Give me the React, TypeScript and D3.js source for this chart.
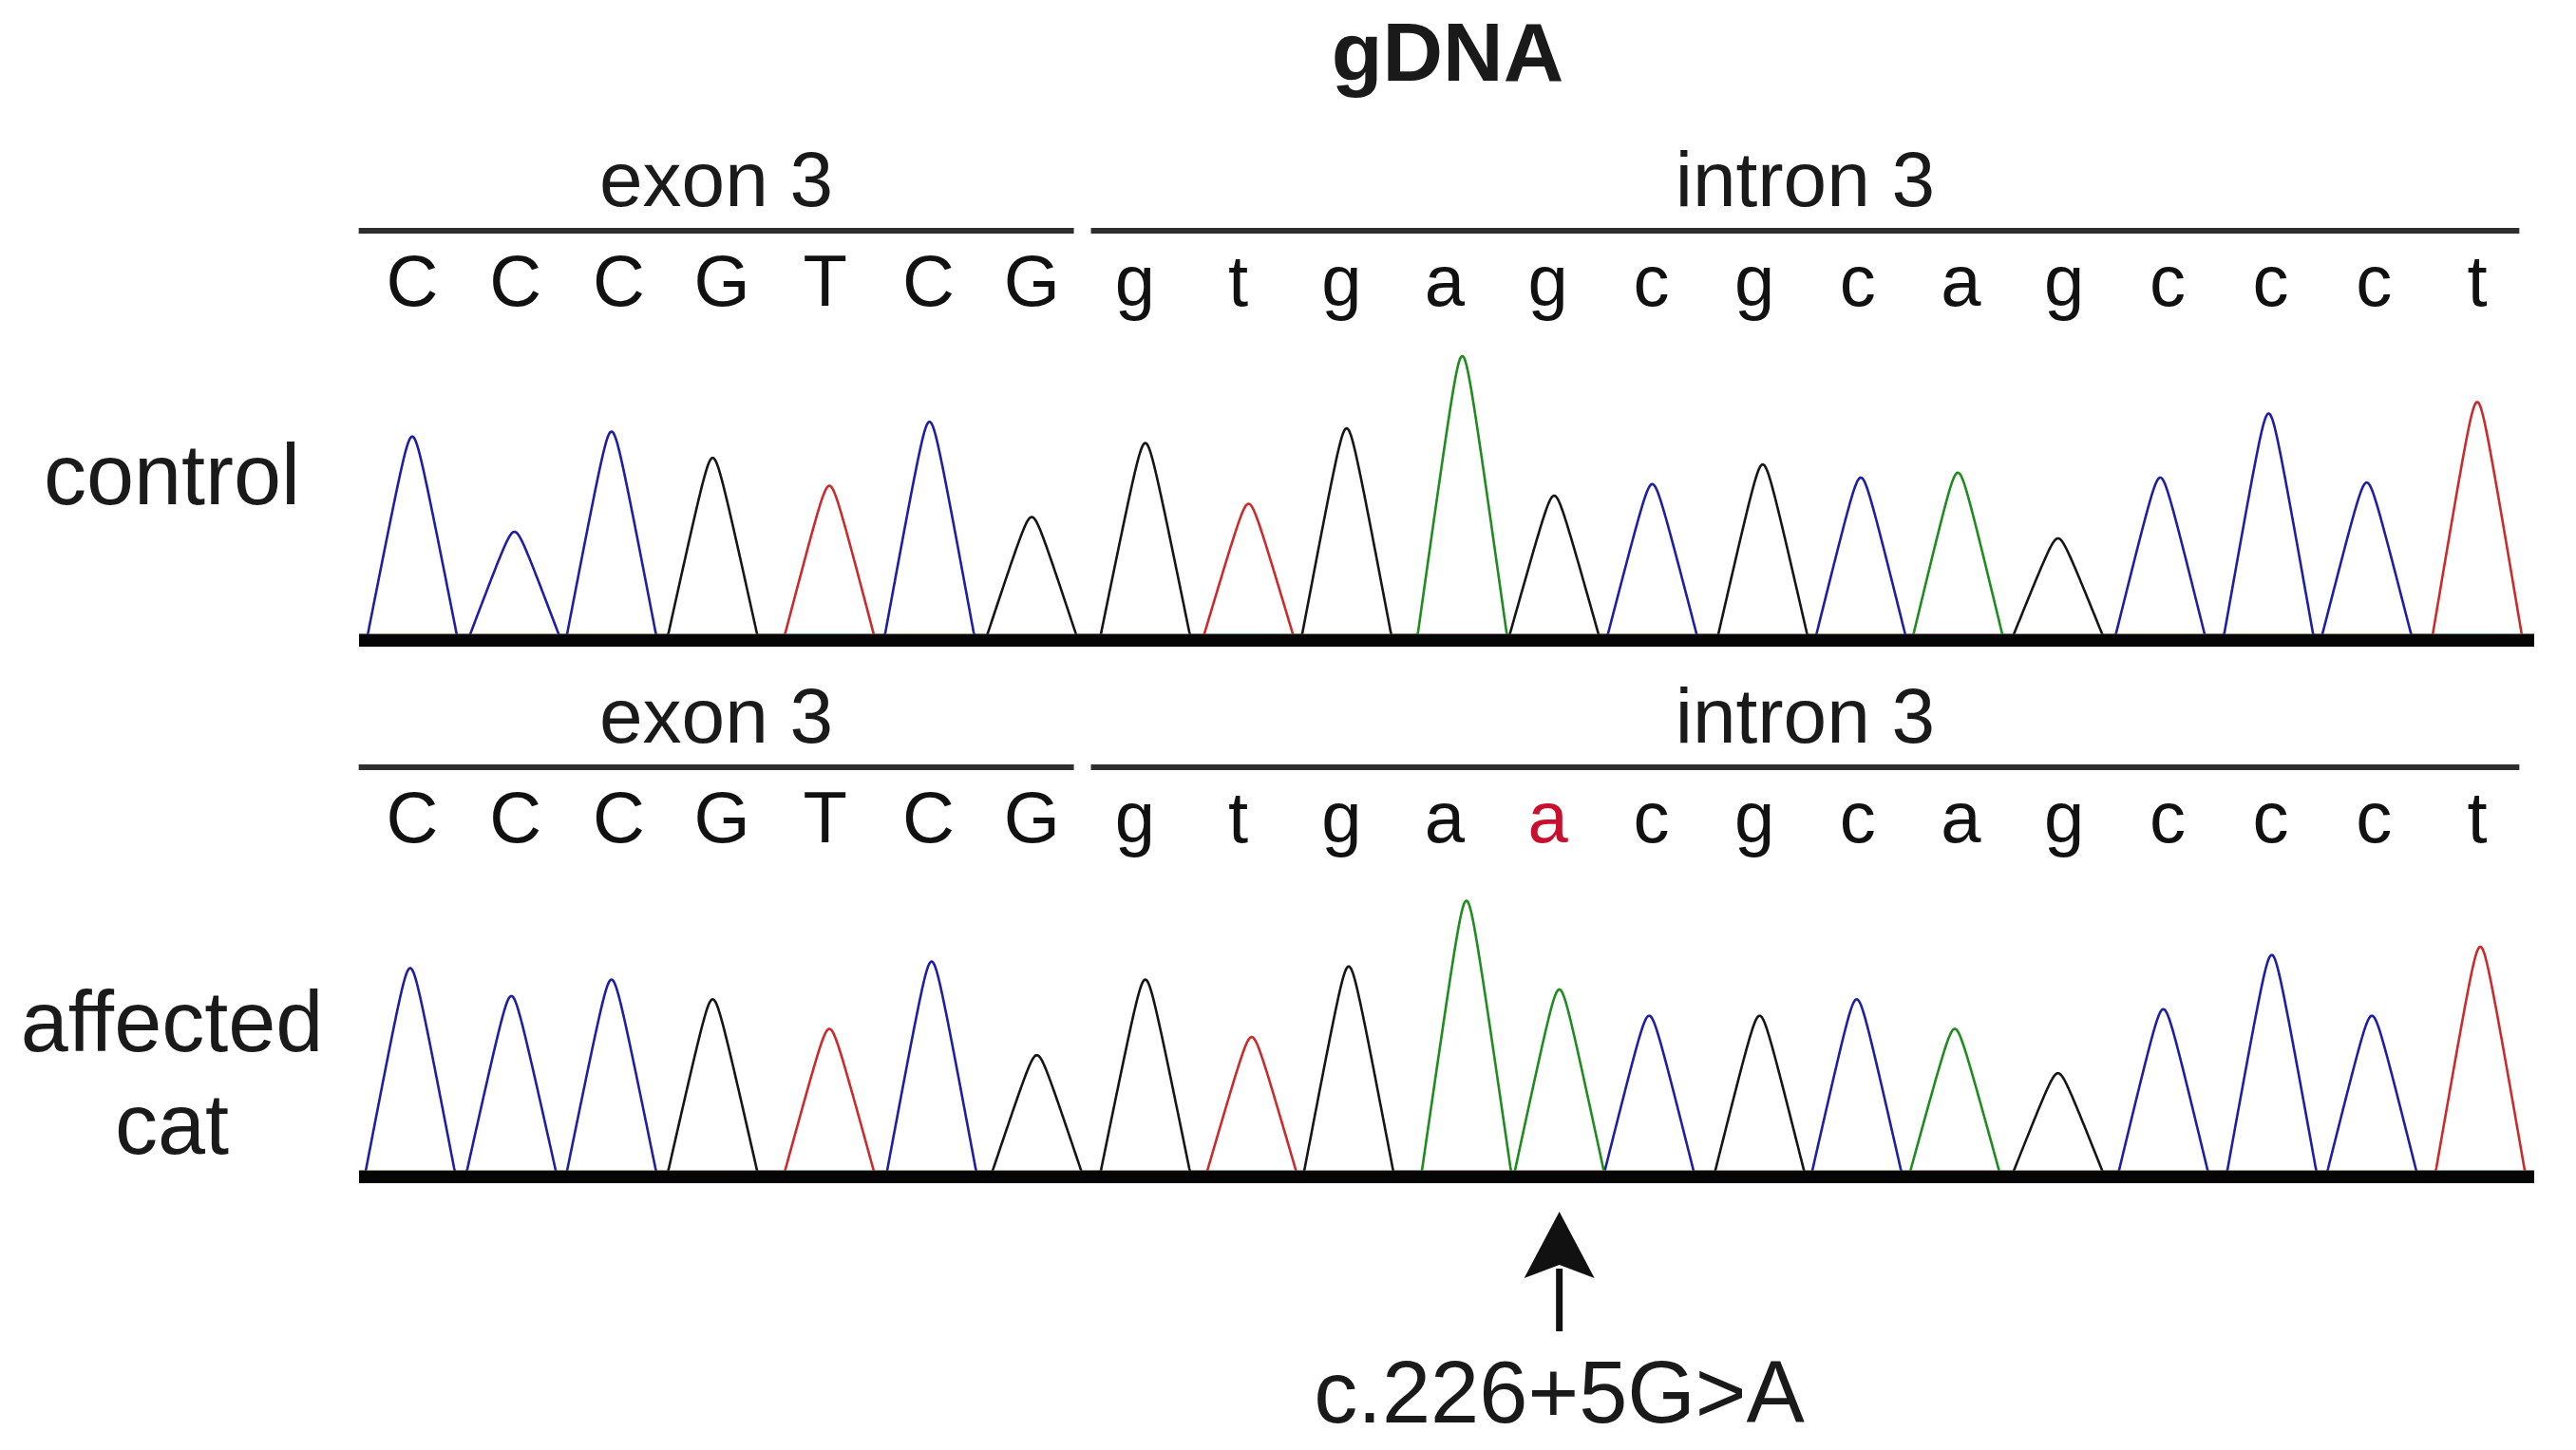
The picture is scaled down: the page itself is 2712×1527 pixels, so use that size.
import React from "react";
import * as d3 from "d3";

// ---- data ----
const CONTROL_BASES = "CCCGTCGgtgagcgcagccct".split("");
const AFFECTED_BASES = "CCCGTCGgtgaacgcagccct".split("");
const MUTATION_INDEX = 11;
const MUTATION_LABEL = "c.226+5G>A";
const TITLE = "gDNA";

// peak centres (in base-call index units) and peak heights (relative signal)
const CONTROL_PEAK_POS = [0, 0.99, 1.93, 2.91, 4.04, 5.01, 6.0, 7.1, 8.1, 9.05, 10.17, 11.06, 12.01, 13.08, 14.03, 14.97, 15.94, 16.93, 17.98, 18.93, 20.0];
const CONTROL_PEAK_H = [121, 63, 124, 108, 91, 130, 72, 117, 80, 126, 170, 85, 92, 104, 96, 99, 59, 96, 135, 93, 142];
const AFFECTED_PEAK_POS = [-0.02, 0.96, 1.93, 2.91, 4.04, 5.03, 6.05, 7.1, 8.13, 9.07, 10.21, 11.11, 11.98, 13.05, 13.99, 14.94, 15.94, 16.96, 18.01, 18.98, 20.03];
const AFFECTED_PEAK_H = [124, 107, 117, 105, 87, 128, 71, 117, 82, 125, 165, 111, 95, 95, 105, 87, 60, 99, 132, 95, 137];

const REGIONS = [
  { label: "exon 3", from: 0, to: 6 },
  { label: "intron 3", from: 7, to: 20 },
];
const ROW_LABELS = [["control"], ["affected", "cat"]];

const CHANNEL_COLOR: Record<string, string> = {
  A: "#1e8c1e",
  C: "#1f1fa3",
  G: "#161616",
  T: "#cc2b2b",
};

const FONT = "'Liberation Sans', Arial, Helvetica, sans-serif";

export default function App() {
  const W = 2712;
  const H = 1527;
  const x = d3.scaleLinear().domain([0, 20]).range([434, 2608]);
  const y = d3.scaleLinear().domain([0, 200]).range([0, 346]);
  const halfBase = 47;
  const e = 0.14;
  const shape = (u: number) => {
    const a = Math.abs(u);
    if (a >= 1) return 0;
    return (Math.sqrt(1 + e * e) - Math.sqrt(a * a + e * e)) / (Math.sqrt(1 + e * e) - e);
  };

  const bandX0 = 378;
  const bandX1 = 2668;
  const panelDy = 565;

  const panels = [
    { bases: CONTROL_BASES, pos: CONTROL_PEAK_POS, h: CONTROL_PEAK_H, labels: ROW_LABELS[0] },
    { bases: AFFECTED_BASES, pos: AFFECTED_PEAK_POS, h: AFFECTED_PEAK_H, labels: ROW_LABELS[1] },
  ];

  const xs = d3.range(bandX0, bandX1 + 1, 1);

  return (
    <svg
      width={W}
      height={H}
      style={{ position: "absolute", left: 0, top: 0, background: "#fff" }}
      fontFamily={FONT}
    >
      <rect x={0} y={0} width={W} height={H} fill="#fff" />
      <text x={1524} y={85} fontSize={88} fontWeight="bold" textAnchor="middle" fill="#1a1a1a">
        {TITLE}
      </text>
      {panels.map((p, pi) => {
        const dy = pi * panelDy;
        const labelY = 217 + dy;
        const lineY = 243 + dy;
        const basesY = 322 + dy;
        const base = 668 + dy;
        const channels = ["C", "G", "T", "A"];
        return (
          <g key={pi}>
            {REGIONS.map((r, ri) => {
              const x0 = ri === 0 ? x(r.from - 0.5) - 2 : x(r.from - 0.5) + 8;
              const x1 = x(r.to + 0.5) - 10;
              return (
                <g key={ri}>
                  <text x={(x0 + x1) / 2} y={labelY} fontSize={82} textAnchor="middle" fill="#1a1a1a">
                    {r.label}
                  </text>
                  <line x1={x0} x2={x1} y1={lineY} y2={lineY} stroke="#2e2e2e" strokeWidth={6} />
                </g>
              );
            })}
            {p.bases.map((b, i) => (
              <text
                key={i}
                x={x(i)}
                y={basesY}
                fontSize={76}
                textAnchor="middle"
                fill={pi === 1 && i === MUTATION_INDEX ? "#c8102e" : "#111"}
              >
                {b}
              </text>
            ))}
            {channels.map((ch) => {
              const peaks = p.bases
                .map((b, i) => ({ b: b.toUpperCase(), pos: p.pos[i], h: p.h[i] }))
                .filter((d) => d.b === ch);
              const pts: [number, number][] = xs.map((px) => {
                let v = 0;
                for (const pk of peaks) v = Math.max(v, pk.h * shape((px - x(pk.pos)) / halfBase));
                return [px, base + 1 - y(v)];
              });
              const path = d3.line()(pts) || "";
              return (
                <path
                  key={ch}
                  d={path}
                  fill="none"
                  stroke={CHANNEL_COLOR[ch]}
                  strokeWidth={2.6}
                  strokeLinejoin="round"
                />
              );
            })}
            <rect x={bandX0} y={base} width={bandX1 - bandX0} height={13} fill="#050505" />
            {p.labels.map((t, li) => (
              <text
                key={li}
                x={181}
                y={(pi === 0 ? 531 : 1107) + li * 108}
                fontSize={90}
                textAnchor="middle"
                fill="#1a1a1a"
              >
                {t}
              </text>
            ))}
          </g>
        );
      })}
      {(() => {
        const ax = x(AFFECTED_PEAK_POS[MUTATION_INDEX]);
        const tip = 1276;
        const headBase = 1346;
        const shaftEnd = 1402;
        return (
          <g>
            <line x1={ax} x2={ax} y1={headBase - 10} y2={shaftEnd} stroke="#111" strokeWidth={7} />
            <path
              d={`M${ax},${tip} L${ax + 37},${headBase} L${ax},${headBase - 14} L${ax - 37},${headBase} Z`}
              fill="#111"
            />
            <text x={ax} y={1498} fontSize={92} textAnchor="middle" fill="#1a1a1a">
              {MUTATION_LABEL}
            </text>
          </g>
        );
      })()}
    </svg>
  );
}
